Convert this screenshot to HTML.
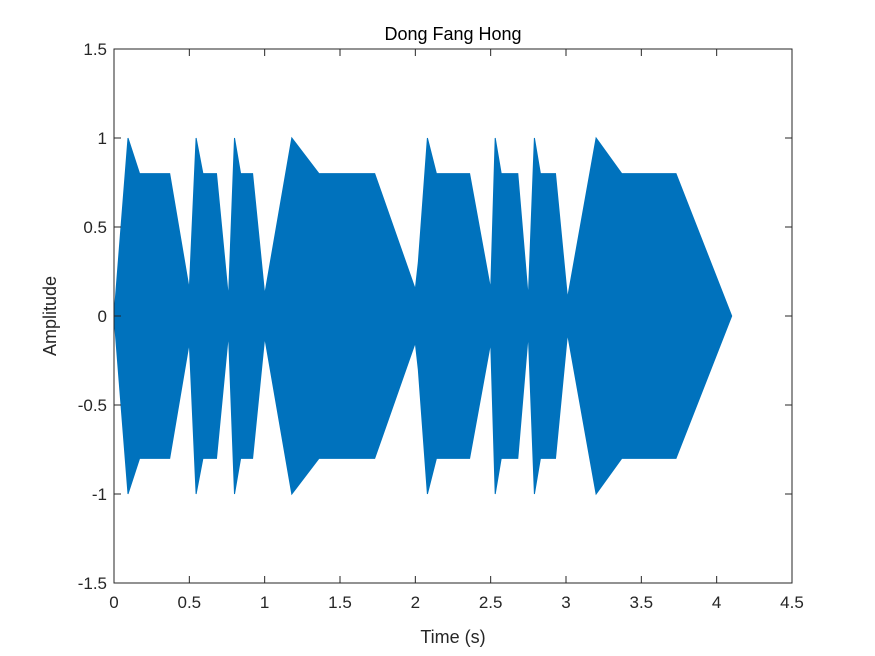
<!DOCTYPE html>
<html><head><meta charset="utf-8"><style>
body{margin:0;background:#fff;}
svg{display:block;font-family:"Liberation Sans",Arial,sans-serif;}
</style></head><body>
<svg id="chart" width="875" height="656" viewBox="0 0 875 656" xmlns="http://www.w3.org/2000/svg">
<rect width="875" height="656" fill="#fff"/>
<g id="plot"></g>
<g id="axes"></g>
<text x="453" y="40" text-anchor="middle" font-size="18" fill="#000">Dong Fang Hong</text>
<text x="453" y="643" text-anchor="middle" font-size="18" fill="#262626">Time (s)</text>
<text transform="translate(56,316) rotate(-90)" text-anchor="middle" font-size="18" fill="#262626">Amplitude</text>
</svg>
<script>
const envTimes = [0, 0.093, 0.17, 0.37, 0.50, 0.545, 0.59, 0.68, 0.76, 0.80, 0.84, 0.92, 1.00, 1.18, 1.36, 1.73, 2.00, 2.02, 2.08, 2.14, 2.36, 2.50, 2.53, 2.57, 2.68, 2.75, 2.79, 2.83, 2.93, 3.01, 3.20, 3.37, 3.73, 4.10];
const envAmps  = [0, 1.0, 0.8, 0.8, 0.15, 1.0, 0.8, 0.8, 0.1, 1.0, 0.8, 0.8, 0.12, 1.0, 0.8, 0.8, 0.15, 0.3, 1.0, 0.8, 0.8, 0.15, 1.0, 0.8, 0.8, 0.1, 1.0, 0.8, 0.8, 0.1, 1.0, 0.8, 0.8, 0];
const xTicks = [0, 0.5, 1, 1.5, 2, 2.5, 3, 3.5, 4, 4.5];
const yTicks = [-1.5, -1, -0.5, 0, 0.5, 1, 1.5];
const xTickLabels = ["0","0.5","1","1.5","2","2.5","3","3.5","4","4.5"];
const yTickLabels = ["-1.5","-1","-0.5","0","0.5","1","1.5"];

const X0=114, X1=792, Y0=583, Y1=49;
const xs = v => X0 + (v-0)/(4.5-0)*(X1-X0);
const ys = v => Y0 - (v+1.5)/3*(Y0-Y1);
const NS="http://www.w3.org/2000/svg";
const plot=document.getElementById('plot'), axes=document.getElementById('axes');

let pts=[];
for(let i=0;i<envTimes.length;i++) pts.push(xs(envTimes[i]).toFixed(1)+','+ys(envAmps[i]).toFixed(1));
for(let i=envTimes.length-1;i>=0;i--) pts.push(xs(envTimes[i]).toFixed(1)+','+ys(-envAmps[i]).toFixed(1));
const poly=document.createElementNS(NS,'polygon');
poly.setAttribute('points',pts.join(' '));
poly.setAttribute('fill','#0072BD');
poly.setAttribute('stroke','#0072BD');
poly.setAttribute('stroke-width','1');


plot.appendChild(poly);

const box=document.createElementNS(NS,'rect');
box.setAttribute('x',X0);box.setAttribute('y',Y1);
box.setAttribute('width',X1-X0);box.setAttribute('height',Y0-Y1);
box.setAttribute('fill','none');box.setAttribute('stroke','#262626');box.setAttribute('stroke-width','1');


axes.appendChild(box);

function line(x1,y1,x2,y2){const l=document.createElementNS(NS,'line');
l.setAttribute('x1',x1);l.setAttribute('y1',y1);l.setAttribute('x2',x2);l.setAttribute('y2',y2);
l.setAttribute('stroke','#262626');l.setAttribute('stroke-width','1');


axes.appendChild(l);}
function text(x,y,s,anchor,name){const t=document.createElementNS(NS,'text');
t.setAttribute('x',x);t.setAttribute('y',y);t.setAttribute('text-anchor',anchor);
t.setAttribute('font-size','17');t.setAttribute('fill','#262626');t.textContent=s;


axes.appendChild(t);}
xTicks.forEach((v,i)=>{const x=xs(v);line(x,Y0,x,Y0-7);line(x,Y1,x,Y1+7);text(x,Y0+25,xTickLabels[i],'middle','x-tick-label');});
yTicks.forEach((v,i)=>{const y=ys(v);line(X0,y,X0+7,y);line(X1,y,X1-7,y);text(X0-7,y+6,yTickLabels[i],'end','y-tick-label');});
</script>
</body></html>
